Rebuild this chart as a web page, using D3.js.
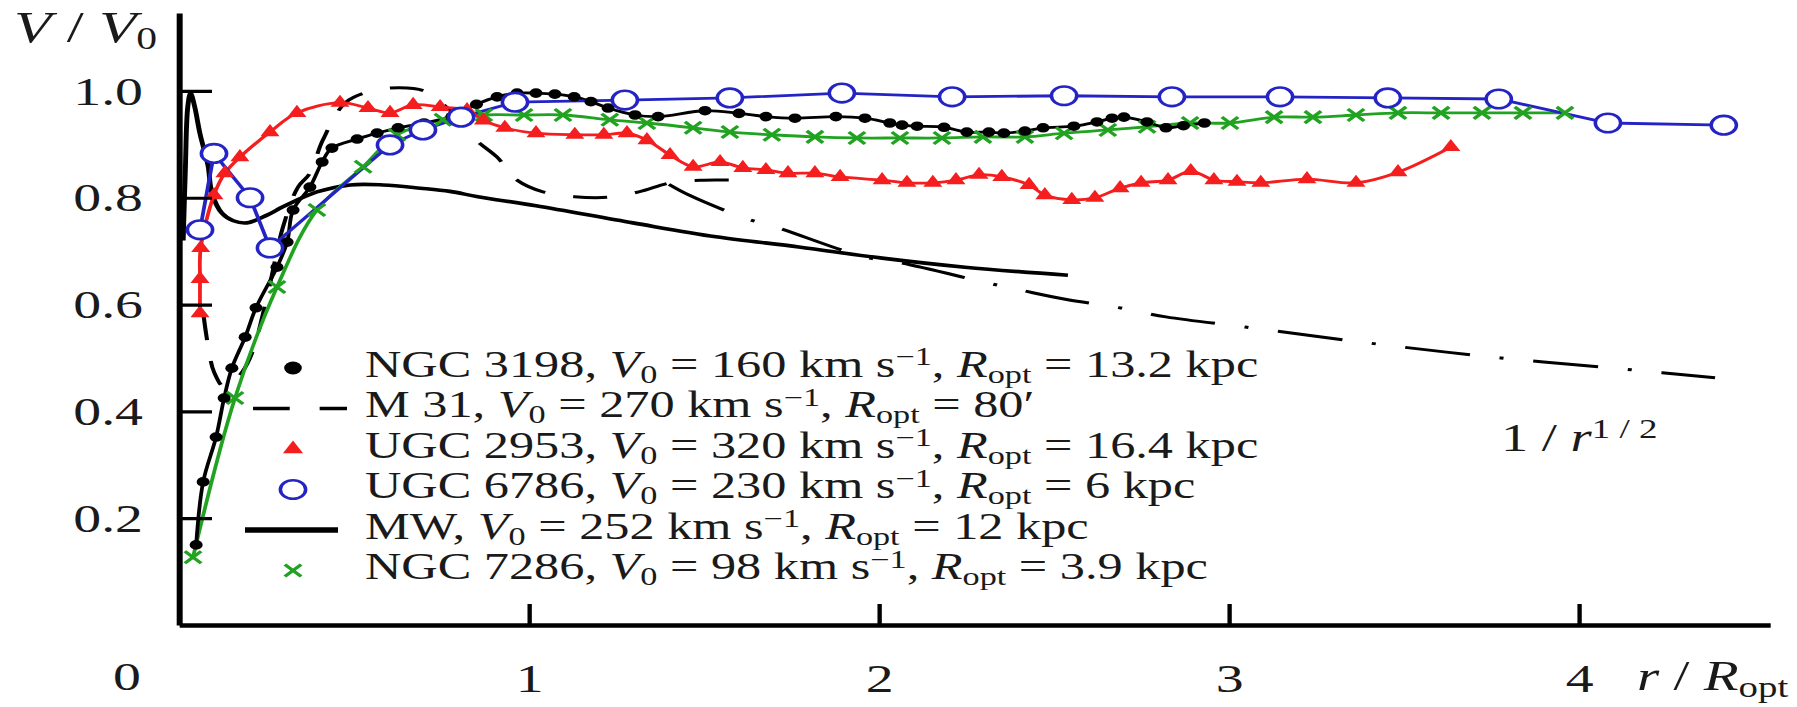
<!DOCTYPE html>
<html>
<head>
<meta charset="utf-8">
<script src="https://cdn.jsdelivr.net/npm/d3@7"></script>
<style>
body { margin: 0; background: #fff; }
svg { display: block; font-family: "Liberation Serif", "Times New Roman", serif; }
</style>
</head>
<body>
<svg id="chart"></svg>
<script>
// values: r / R_opt and V / V0
const ngc3198R = [0.049, 0.069, 0.106, 0.129, 0.151, 0.189, 0.220, 0.280, 0.309, 0.326, 0.374, 0.409, 0.437, 0.509, 0.566, 0.626, 0.70, 0.78, 0.85, 0.909, 0.966, 1.020, 1.074, 1.129, 1.177, 1.226, 1.303, 1.369, 1.503, 1.600, 1.677, 1.760, 1.877, 1.960, 2.031, 2.066, 2.109, 2.186, 2.251, 2.314, 2.357, 2.417, 2.469, 2.557, 2.623, 2.666, 2.700, 2.766, 2.820, 2.87, 2.93];
const ngc3198V = [0.150, 0.268, 0.352, 0.425, 0.481, 0.539, 0.594, 0.670, 0.717, 0.777, 0.820, 0.867, 0.893, 0.910, 0.921, 0.931, 0.940, 0.952, 0.975, 0.989, 0.996, 0.996, 0.994, 0.989, 0.980, 0.968, 0.955, 0.952, 0.963, 0.958, 0.952, 0.949, 0.952, 0.949, 0.940, 0.936, 0.934, 0.932, 0.923, 0.923, 0.921, 0.925, 0.931, 0.934, 0.942, 0.949, 0.951, 0.942, 0.931, 0.935, 0.940];

const m31R = [0.07, 0.085, 0.10, 0.13, 0.166, 0.203, 0.25, 0.297, 0.34, 0.374, 0.411, 0.477, 0.55, 0.63, 0.70, 0.78, 0.849, 0.909, 0.966, 1.04, 1.13, 1.226, 1.314, 1.403, 1.491, 1.594];
const m31V = [0.58, 0.515, 0.474, 0.445, 0.462, 0.50, 0.61, 0.745, 0.82, 0.846, 0.908, 0.979, 1.0, 1.006, 1.0, 0.96, 0.908, 0.876, 0.833, 0.811, 0.802, 0.801, 0.811, 0.828, 0.833, 0.833];

const ugc2953R = [0.06, 0.06, 0.062, 0.10, 0.131, 0.174, 0.26, 0.337, 0.46, 0.54, 0.603, 0.669, 0.746, 0.823, 0.87, 0.931, 1.02, 1.131, 1.214, 1.28, 1.337, 1.403, 1.469, 1.546, 1.611, 1.677, 1.74, 1.817, 1.889, 2.009, 2.08, 2.154, 2.22, 2.286, 2.351, 2.429, 2.474, 2.551, 2.617, 2.689, 2.749, 2.826, 2.891, 2.957, 3.023, 3.091, 3.223, 3.363, 3.483, 3.634];
const ugc2953V = [0.584, 0.648, 0.706, 0.805, 0.846, 0.876, 0.923, 0.959, 0.978, 0.968, 0.959, 0.974, 0.970, 0.964, 0.945, 0.931, 0.921, 0.918, 0.918, 0.921, 0.908, 0.880, 0.858, 0.867, 0.856, 0.852, 0.846, 0.846, 0.839, 0.833, 0.828, 0.828, 0.833, 0.843, 0.839, 0.824, 0.805, 0.796, 0.800, 0.818, 0.828, 0.833, 0.850, 0.833, 0.830, 0.828, 0.835, 0.828, 0.848, 0.895];

const ugc6786R = [0.06, 0.10, 0.203, 0.26, 0.603, 0.697, 0.806, 0.96, 1.274, 1.574, 1.894, 2.209, 2.529, 2.837, 3.146, 3.454, 3.771, 4.083, 4.414];
const ugc6786V = [0.740, 0.883, 0.800, 0.706, 0.899, 0.927, 0.951, 0.979, 0.983, 0.987, 0.996, 0.989, 0.991, 0.989, 0.989, 0.987, 0.985, 0.940, 0.936];

const mwR = [0.012, 0.018, 0.025, 0.033, 0.045, 0.06, 0.083, 0.094, 0.123, 0.155, 0.194, 0.25, 0.297, 0.394, 0.489, 0.583, 0.69, 0.774, 0.854, 1.02, 1.297, 1.534, 1.771, 2.009, 2.246, 2.54];
const mwV = [0.72, 0.85, 0.97, 0.996, 0.97, 0.92, 0.86, 0.809, 0.771, 0.757, 0.753, 0.767, 0.783, 0.811, 0.824, 0.824, 0.818, 0.812, 0.802, 0.785, 0.753, 0.727, 0.708, 0.687, 0.670, 0.655];

const ngc7286R = [0.04, 0.16, 0.28, 0.394, 0.526, 0.623, 0.754, 0.871, 0.986, 1.097, 1.231, 1.337, 1.469, 1.574, 1.694, 1.817, 1.937, 2.06, 2.18, 2.297, 2.417, 2.529, 2.654, 2.766, 2.889, 3.003, 3.129, 3.24, 3.363, 3.483, 3.606, 3.723, 3.84, 3.96];
const ngc7286V = [0.127, 0.425, 0.633, 0.777, 0.858, 0.918, 0.946, 0.955, 0.955, 0.955, 0.946, 0.940, 0.931, 0.923, 0.918, 0.914, 0.912, 0.912, 0.912, 0.914, 0.914, 0.921, 0.927, 0.933, 0.940, 0.940, 0.951, 0.951, 0.955, 0.959, 0.959, 0.959, 0.959, 0.959];

// the 1/r^(1/2) fall-off
const keplerR = [1.40, 1.457, 1.617, 1.706, 1.96, 2.049, 2.314, 2.406, 2.54, 2.67, 2.82, 3.046, 3.4, 3.777, 4.149, 4.389];
const keplerV = [0.825, 0.805, 0.762, 0.745, 0.689, 0.680, 0.640, 0.627, 0.609, 0.596, 0.577, 0.558, 0.528, 0.500, 0.478, 0.463];

const xTicks = [1, 2, 3, 4];
const yTicks = [0.2, 0.4, 0.6, 0.8, 1.0];

const galaxyNames = ['NGC 3198', 'M 31', 'UGC 2953', 'UGC 6786', 'MW', 'NGC 7286'];
const v0Values = ['160', '270', '320', '230', '252', '98'];
const roptValues = ['13.2 kpc', '80\u2032', '16.4 kpc', '6 kpc', '12 kpc', '3.9 kpc'];

// the printed figure is stretched sideways, so everything is drawn in a squeezed frame
const SX = 1.36;
const RED = '#f41e1e';
const BLUE = '#2424c4';
const GREEN = '#21a321';

const svg = d3.select('#chart').attr('width', 1797).attr('height', 707);
const g = svg.append('g').attr('transform', `scale(${SX},1)`);

const x = d3.scaleLinear().domain([0, 4.546]).range([179 / SX, 1770 / SX]);
const y = d3.scaleLinear().domain([0, 1.146]).range([625, 13]);

function richText(sel, parts, size) {
	let shift = 0;
	parts.forEach(([str, kind]) => {
		const t = sel.append('tspan').text(str);
		let target = 0;
		if (kind === 'sub') {
			t.attr('font-size', size * 0.68);
			target = size * 0.16;
		} else if (kind === 'sup') {
			t.attr('font-size', size * 0.68);
			target = -size * 0.32;
		} else if (kind === 'i') {
			t.attr('font-style', 'italic');
		}
		if (target !== shift) {
			t.attr('dy', target - shift);
			shift = target;
		}
	});
}

function crossPath(a) {
	return `M${-a},${-a}L${a},${a}M${-a},${a}L${a},${-a}`;
}

function drawAxes() {
	const yAxis = d3.axisLeft(y)
		.tickValues(yTicks)
		.tickFormat(d3.format('.1f'))
		.tickSizeInner(-33 / SX)
		.tickSizeOuter(0)
		.tickPadding(26.5);
	const xAxis = d3.axisBottom(x)
		.tickValues(xTicks)
		.tickFormat(d3.format('d'))
		.tickSizeInner(-21)
		.tickSizeOuter(0)
		.tickPadding(38);

	const gy = g.append('g').attr('transform', `translate(${x(0)},0)`).call(yAxis);
	const gx = g.append('g').attr('transform', `translate(0,${y(0)})`).call(xAxis);

	[gx, gy].forEach(ax => {
		ax.attr('font-family', null).attr('font-size', null);
		ax.select('.domain').attr('stroke', '#000').attr('stroke-width', 4.4);
		ax.selectAll('.tick line').attr('stroke', '#000').attr('stroke-width', 3.2);
		ax.selectAll('.tick text').attr('font-size', 41).attr('fill', '#1a1a1a');
	});

	g.append('text')
		.attr('x', 141 / SX)
		.attr('y', 690)
		.attr('text-anchor', 'end')
		.attr('font-size', 41)
		.attr('fill', '#1a1a1a')
		.text('0');

	richText(g.append('text').attr('x', 14 / SX).attr('y', 42).attr('fill', '#1a1a1a').attr('font-size', 45),
		[['V', 'i'], [' / ', ''], ['V', 'i'], ['0', 'sub']], 45);

	richText(g.append('text').attr('x', 1637 / SX).attr('y', 690).attr('fill', '#1a1a1a').attr('font-size', 42),
		[['r', 'i'], [' / ', ''], ['R', 'i'], ['opt', 'sub']], 42);

	richText(g.append('text').attr('x', 1501 / SX).attr('y', 451).attr('fill', '#1a1a1a').attr('font-size', 40),
		[['1 / ', ''], ['r', 'i'], ['1 / 2', 'sup']], 40);
}

function drawLines() {
	const smooth = d3.line().x(d => x(d[0])).y(d => y(d[1])).curve(d3.curveCatmullRom.alpha(0.5));
	const straight = d3.line().x(d => x(d[0])).y(d => y(d[1]));

	g.append('path')
		.datum(d3.zip(keplerR, keplerV))
		.attr('d', smooth)
		.attr('fill', 'none')
		.attr('stroke', '#000')
		.attr('stroke-width', 3)
		.attr('stroke-dasharray', '48,22,3,22');

	g.append('path')
		.datum(d3.zip(m31R, m31V))
		.attr('d', smooth)
		.attr('fill', 'none')
		.attr('stroke', '#000')
		.attr('stroke-width', 3)
		.attr('stroke-dasharray', '25,21');

	g.append('path')
		.datum(d3.zip(mwR, mwV))
		.attr('d', smooth)
		.attr('fill', 'none')
		.attr('stroke', '#000')
		.attr('stroke-width', 3.6);

	g.append('path')
		.datum(d3.zip(ngc7286R, ngc7286V))
		.attr('d', smooth)
		.attr('fill', 'none')
		.attr('stroke', GREEN)
		.attr('stroke-width', 2.8);

	g.append('path')
		.datum(d3.zip(ugc2953R, ugc2953V))
		.attr('d', smooth)
		.attr('fill', 'none')
		.attr('stroke', RED)
		.attr('stroke-width', 2.8);

	g.append('path')
		.datum(d3.zip(ngc3198R, ngc3198V))
		.attr('d', smooth)
		.attr('fill', 'none')
		.attr('stroke', '#000')
		.attr('stroke-width', 2.8);

	g.append('path')
		.datum(d3.zip(ugc6786R, ugc6786V))
		.attr('d', straight)
		.attr('fill', 'none')
		.attr('stroke', BLUE)
		.attr('stroke-width', 2.8);
}

function drawMarkers() {
	const tri = d3.symbol(d3.symbolTriangle, 85);

	g.append('g').selectAll('path')
		.data(d3.zip(ngc7286R, ngc7286V))
		.join('path')
		.attr('transform', d => `translate(${x(d[0])},${y(d[1])})`)
		.attr('d', crossPath(6))
		.attr('stroke', GREEN)
		.attr('stroke-width', 2.9)
		.attr('fill', 'none');

	g.append('g').selectAll('path')
		.data(d3.zip(ugc2953R, ugc2953V))
		.join('path')
		.attr('transform', d => `translate(${x(d[0])},${y(d[1])})`)
		.attr('d', tri)
		.attr('fill', RED);

	g.append('g').selectAll('circle')
		.data(d3.zip(ngc3198R, ngc3198V))
		.join('circle')
		.attr('cx', d => x(d[0]))
		.attr('cy', d => y(d[1]))
		.attr('r', 4.8)
		.attr('fill', '#000');

	g.append('g').selectAll('circle')
		.data(d3.zip(ugc6786R, ugc6786V))
		.join('circle')
		.attr('cx', d => x(d[0]))
		.attr('cy', d => y(d[1]))
		.attr('r', 9.3)
		.attr('fill', '#fff')
		.attr('stroke', BLUE)
		.attr('stroke-width', 2.6);
}

function drawLegend() {
	const top = 368;
	const step = 40.5;
	const keyX = 293 / SX;
	const leg = g.append('g');

	galaxyNames.forEach((name, i) => {
		const cy = top + i * step;
		if (i === 0) {
			leg.append('circle').attr('cx', keyX).attr('cy', cy).attr('r', 6.5).attr('fill', '#000');
		} else if (i === 1) {
			leg.append('line')
				.attr('x1', 253 / SX).attr('x2', 347 / SX)
				.attr('y1', cy).attr('y2', cy)
				.attr('stroke', '#000').attr('stroke-width', 3.4)
				.attr('stroke-dasharray', '27,22');
		} else if (i === 2) {
			leg.append('path')
				.attr('transform', `translate(${keyX},${cy})`)
				.attr('d', d3.symbol(d3.symbolTriangle, 95))
				.attr('fill', RED);
		} else if (i === 3) {
			leg.append('circle').attr('cx', keyX).attr('cy', cy).attr('r', 9.3)
				.attr('fill', '#fff').attr('stroke', BLUE).attr('stroke-width', 2.6);
		} else if (i === 4) {
			leg.append('line')
				.attr('x1', 245 / SX).attr('x2', 338 / SX)
				.attr('y1', cy).attr('y2', cy)
				.attr('stroke', '#000').attr('stroke-width', 5.5);
		} else {
			leg.append('path')
				.attr('transform', `translate(${keyX},${cy})`)
				.attr('d', crossPath(6))
				.attr('stroke', GREEN).attr('stroke-width', 2.9);
		}

		const t = leg.append('text')
			.attr('x', 365 / SX)
			.attr('y', cy + 9)
			.attr('font-size', 37)
			.attr('fill', '#1a1a1a');
		richText(t, [
			[name + ', ', ''], ['V', 'i'], ['0', 'sub'],
			[' = ' + v0Values[i] + ' km s', ''], ['\u22121', 'sup'],
			[', ', ''], ['R', 'i'], ['opt', 'sub'], [' = ' + roptValues[i], '']
		], 37);
	});
}

drawLines();
drawMarkers();
drawAxes();
drawLegend();
</script>
</body>
</html>
